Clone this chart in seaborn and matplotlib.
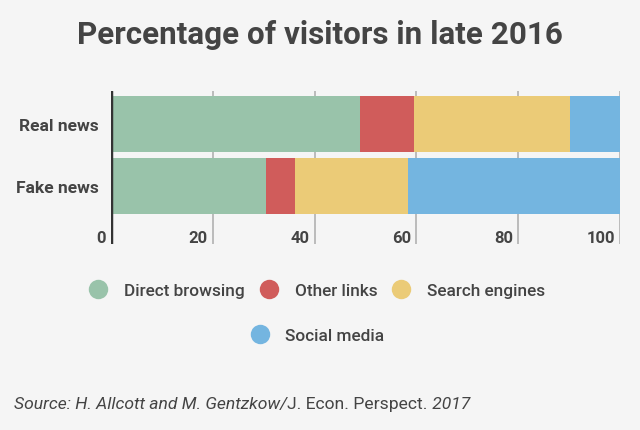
import matplotlib
matplotlib.use("Agg")
import matplotlib.pyplot as plt
import seaborn as sns
import pandas as pd
import numpy as np
from matplotlib.lines import Line2D

categories = ["Real news", "Fake news"]
series = ["Direct browsing", "Other links", "Search engines", "Social media"]
direct_browsing = [48.9, 30.5]
other_links = [10.6, 5.6]
search_engines = [30.6, 22.3]
social_media = [9.9, 41.6]
colors = ["#99c3aa", "#d05c5b", "#ebcb77", "#74b5e0"]
xticks = [0, 20, 40, 60, 80, 100]
source_parts = [("Source: H. Allcott and M. Gentzkow/", "italic"),
                ("J. Econ. Perspect.", "normal"),
                (" 2017", "italic")]

sns.set_theme(style="white")
plt.rcParams["font.family"] = ["Roboto", "DejaVu Sans"]
BG = "#f5f5f5"
TXT = "#444444"

fig = plt.figure(figsize=(6.4, 4.31), dpi=100, facecolor=BG)
ax = fig.add_axes([111/640, 1-245/431, (620-111)/640, (245-92)/431], facecolor=BG)

vals = [direct_browsing, other_links, search_engines, social_media]
cum = np.cumsum(np.array(vals), axis=0)
for i in range(len(series) - 1, -1, -1):
    df = pd.DataFrame({"cat": categories, "val": cum[i]})
    sns.barplot(data=df, x="val", y="cat", orient="h", color=colors[i],
                saturation=1, width=0.9, ax=ax, zorder=3, linewidth=0)

ax.set_xlim(0, 100)
ax.set_ylim(1.94, -0.53)
for x in xticks[1:]:
    ax.axvline(x, color="#bbbbbb", lw=1.4, zorder=1)
ax.axvline(0, color="#333333", lw=2.5, zorder=4)
for s in ax.spines.values():
    s.set_visible(False)
ax.set_xlabel("")
ax.set_ylabel("")
ax.set_xticks([])
ax.set_yticks(range(len(categories)))
ax.set_yticklabels(categories, fontsize=12.5, fontweight="bold", color=TXT)
ax.tick_params(axis="y", length=0, pad=9)
for x in xticks:
    ax.text(x - 1.0, 1.83, str(x), ha="right", va="center", fontsize=12,
            fontweight="bold", color=TXT, transform=ax.transData)

fig.text(0.5, 1-35/431, "Percentage of visitors in late 2016", ha="center",
         va="center", fontsize=22.6, fontweight="bold", color=TXT)

handles = [Line2D([], [], marker="o", linestyle="none", markersize=14,
                  markerfacecolor=c, markeredgecolor="none") for c in colors]
leg1 = fig.legend(handles[:3], series[:3], loc="center", ncol=3,
                  bbox_to_anchor=(313/640, 1-291/431), frameon=False,
                  handletextpad=0.5, columnspacing=0.4, borderpad=0,
                  labelcolor=TXT, prop={"weight": "medium", "size": 12.4})
leg2 = fig.legend(handles[3:], series[3:], loc="center", ncol=1,
                  bbox_to_anchor=(313.5/640, 1-336/431), frameon=False,
                  handletextpad=0.5, borderpad=0, labelcolor=TXT,
                  prop={"weight": "medium", "size": 12.4})

renderer = fig.canvas.get_renderer()
xpos = 14 / 640
for txt, st in source_parts:
    t = fig.text(xpos, 1-405/431, txt, ha="left", va="center", fontsize=12.6,
                 style=st, color=TXT)
    bb = t.get_window_extent(renderer=renderer)
    xpos = bb.x1 / (fig.get_figwidth() * fig.dpi)

fig.savefig("out.png", dpi=100, facecolor=BG)
